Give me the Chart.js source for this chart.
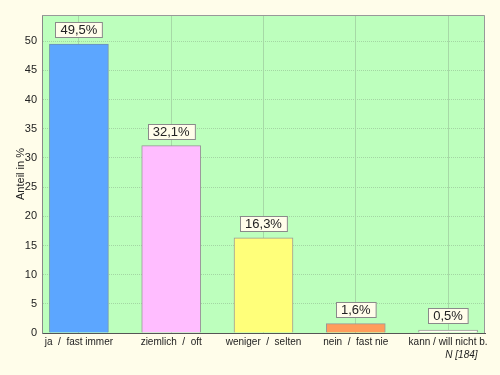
<!DOCTYPE html>
<html>
<head>
<meta charset="utf-8">
<script src="https://cdn.jsdelivr.net/npm/chart.js@4"></script>
<style>
  html, body { margin: 0; padding: 0; background: #fffdea; }
  #wrap { width: 500px; height: 375px; }
</style>
</head>
<body>
<div id="wrap"><canvas id="chart" width="500" height="375"></canvas></div>
<script>
var categories = ['ja  /  fast immer', 'ziemlich  /  oft', 'weniger  /  selten', 'nein  /  fast nie', 'kann / will nicht b.'];
var values = [49.5, 32.1, 16.3, 1.6, 0.5];
var valueLabels = ['49,5%', '32,1%', '16,3%', '1,6%', '0,5%'];
var barColors = ['#5ca6ff', '#ffbdff', '#ffff7a', '#ff9d5c', '#fffdf0'];
var yTicks = [0, 5, 10, 15, 20, 25, 30, 35, 40, 45, 50];
var sampleNote = 'N [184]';

document.addEventListener('DOMContentLoaded', function () {
    var ctx = document.getElementById('chart').getContext('2d');

    // plot background, frame, value boxes and sample size note
    var decor = {
        id: 'decor',
        beforeDraw: function (chart) {
            var a = chart.chartArea;
            var c = chart.ctx;
            c.save();
            c.fillStyle = '#bdffbd';
            c.fillRect(a.left, a.top, a.right - a.left, a.bottom - a.top);
            c.restore();
        },
        afterDatasetsDraw: function (chart) {
            var a = chart.chartArea;
            var c = chart.ctx;
            c.save();
            c.strokeStyle = '#999999';
            c.lineWidth = 1;
            c.beginPath();
            c.moveTo(a.left, a.top + 0.5);
            c.lineTo(a.right - 0.5, a.top + 0.5);
            c.lineTo(a.right - 0.5, a.bottom);
            c.stroke();

            var meta = chart.getDatasetMeta(0);
            c.font = '13px "Liberation Sans", Arial, sans-serif';
            c.textAlign = 'center';
            c.textBaseline = 'middle';
            meta.data.forEach(function (bar, i) {
                var txt = valueLabels[i];
                var w = c.measureText(txt).width + 10;
                var h = 15;
                var x = Math.round(bar.x - w / 2) + 0.5;
                var y = Math.round(bar.y - 7 - h) + 0.5;
                c.fillStyle = '#fffdea';
                c.fillRect(x, y, w, h);
                c.strokeStyle = '#8a8a8a';
                c.strokeRect(x, y, w, h);
                c.fillStyle = '#222222';
                c.fillText(txt, bar.x, y + h / 2 + 0.5);
            });

            var xs = chart.scales.x;
            c.font = '10px "Liberation Sans", Arial, sans-serif';
            var lastW = c.measureText(categories[categories.length - 1]).width;
            var rx = xs.getPixelForValue(categories.length - 1) + lastW / 2 - 10;
            c.font = 'italic 10px "Liberation Sans", Arial, sans-serif';
            c.textAlign = 'right';
            c.fillStyle = '#222222';
            c.fillText(sampleNote, rx, a.bottom + 22);
            c.restore();
        }
    };

    new Chart(ctx, {
        type: 'bar',
        data: {
            datasets: [{
                data: values.map(function (v, i) { return { x: i, y: v }; }),
                backgroundColor: barColors,
                borderColor: ['#6f8fb0', '#999999', '#999999', '#999999', '#999999'],
                borderWidth: 1,
                barThickness: 59
            }]
        },
        plugins: [decor],
        options: {
            responsive: false,
            animation: false,
            layout: { padding: { left: 0, right: 15, top: 15, bottom: 0 } },
            plugins: {
                legend: { display: false },
                tooltip: { enabled: false }
            },
            scales: {
                x: {
                    type: 'linear',
                    offset: false,
                    min: -0.4,
                    max: categories.length - 0.6,
                    afterFit: function (scale) { scale.height = 42; },
                    afterBuildTicks: function (scale) {
                        scale.ticks = categories.map(function (c, i) { return { value: i }; });
                    },
                    ticks: {
                        stepSize: 1,
                        includeBounds: false,
                        maxRotation: 0,
                        autoSkip: false,
                        padding: 3,
                        color: '#222222',
                        font: { family: '"Liberation Sans", Arial, sans-serif', size: 10 },
                        callback: function (v) { return categories[v]; }
                    },
                    grid: { color: '#a6d9a6', drawTicks: false, offset: false },
                    border: { color: '#555555' }
                },
                y: {
                    min: 0,
                    max: 54.5,
                    afterFit: function (scale) { scale.width = 42; },
                    afterBuildTicks: function (scale) {
                        scale.ticks = yTicks.map(function (v) { return { value: v }; });
                    },
                    ticks: {
                        stepSize: 5,
                        includeBounds: false,
                        padding: 5,
                        color: '#222222',
                        font: { family: '"Liberation Sans", Arial, sans-serif', size: 11 }
                    },
                    grid: { color: '#a3d6a3', drawTicks: false, tickLength: 0 },
                    border: { color: '#888888', dash: [1, 1] },
                    title: {
                        display: true,
                        text: 'Anteil in %',
                        color: '#222222',
                        padding: { top: 14, bottom: 0 },
                        font: { family: '"Liberation Sans", Arial, sans-serif', size: 11 }
                    }
                }
            }
        }
    });
});
</script>
</body>
</html>
